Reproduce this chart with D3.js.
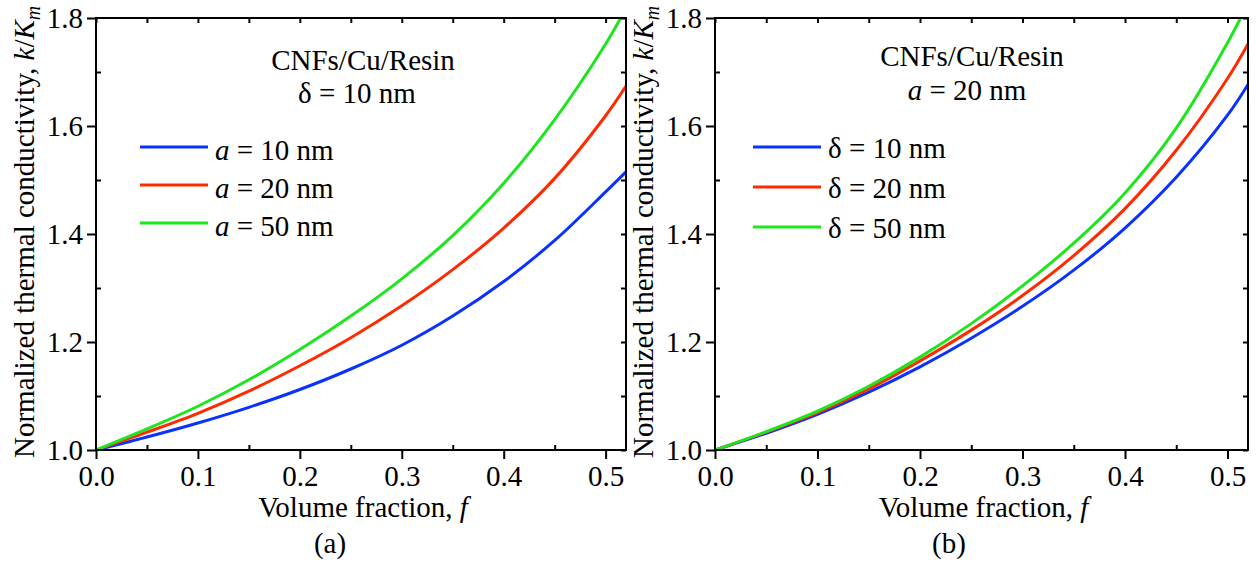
<!DOCTYPE html>
<html>
<head>
<meta charset="utf-8">
<script src="https://cdn.jsdelivr.net/npm/d3@7"></script>
<style>
  body { margin: 0; background: #fff; }
  svg text { font-family: "Liberation Serif", "Times New Roman", serif; fill: #000; }
</style>
</head>
<body>
<svg width="1256" height="569"></svg>
<script>
// volume fraction samples
const fracs = [0, 0.05, 0.1, 0.15, 0.2, 0.25, 0.3, 0.35, 0.4, 0.45, 0.5, 0.52];
// panel (a): delta = 10 nm
const leftA10 = [1, 1.024, 1.05, 1.079, 1.112, 1.15, 1.194, 1.248, 1.312, 1.388, 1.478, 1.515];
const leftA20 = [1, 1.033, 1.068, 1.109, 1.156, 1.208, 1.267, 1.334, 1.411, 1.503, 1.619, 1.674];
const leftA50 = [1, 1.039, 1.081, 1.13, 1.186, 1.248, 1.317, 1.397, 1.494, 1.612, 1.752, 1.818];
// panel (b): a = 20 nm
const rightD10 = [1, 1.031, 1.066, 1.107, 1.154, 1.207, 1.266, 1.333, 1.411, 1.505, 1.62, 1.677];
const rightD20 = [1, 1.033, 1.069, 1.113, 1.165, 1.222, 1.286, 1.36, 1.447, 1.555, 1.688, 1.752];
const rightD50 = [1, 1.034, 1.072, 1.118, 1.172, 1.234, 1.304, 1.383, 1.476, 1.596, 1.754, 1.828];

const xMajor = [0, 0.1, 0.2, 0.3, 0.4, 0.5];
const xMinor = [0.05, 0.15, 0.25, 0.35, 0.45];
const yMajor = [1.0, 1.2, 1.4, 1.6, 1.8];
const yMinor = [1.1, 1.3, 1.5, 1.7];

const seriesColors = ["#0a32ff", "#ff2a00", "#1ee61e"];

const svg = d3.select("svg");

function drawPanel(opt) {
    var x = d3.scaleLinear().domain([0, 0.52]).range([opt.x0, opt.x1]);
    var y = d3.scaleLinear().domain([1.0, 1.8]).range([450, 18]);
    var g = svg.append("g");

    g.append("clipPath").attr("id", opt.id + "clip")
        .append("rect")
        .attr("x", opt.x0).attr("y", 18)
        .attr("width", opt.x1 - opt.x0).attr("height", 432);

    var line = d3.line()
        .x(function(d) { return x(d[0]); })
        .y(function(d) { return y(d[1]); })
        .curve(d3.curveCatmullRom.alpha(0.5));

    opt.series.forEach(function(vals, i) {
        g.append("path")
            .datum(fracs.map(function(f, j) { return [f, vals[j]]; }))
            .attr("d", line)
            .attr("fill", "none")
            .attr("stroke", seriesColors[i])
            .attr("stroke-width", 3)
            .attr("clip-path", "url(#" + opt.id + "clip)");
    });

    // bottom: major out, minor in
    g.append("g").attr("transform", "translate(0,450)")
        .call(d3.axisBottom(x).tickValues(xMajor).tickSize(9).tickPadding(6)
            .tickFormat(d3.format(".1f")));
    g.append("g").attr("transform", "translate(0,450)")
        .call(d3.axisBottom(x).tickValues(xMinor).tickSize(-5).tickFormat(""));
    // left
    g.append("g").attr("transform", "translate(" + opt.x0 + ",0)")
        .call(d3.axisLeft(y).tickValues(yMajor).tickSize(9).tickPadding(4)
            .tickFormat(d3.format(".1f")));
    g.append("g").attr("transform", "translate(" + opt.x0 + ",0)")
        .call(d3.axisLeft(y).tickValues(yMinor).tickSize(-5).tickFormat(""));
    // top and right mirrored, inward
    g.append("g").attr("transform", "translate(0,18)")
        .call(d3.axisTop(x).tickValues(xMajor.concat(xMinor)).tickSize(-5).tickFormat(""));
    g.append("g").attr("transform", "translate(" + opt.x1 + ",0)")
        .call(d3.axisRight(y).tickValues(yMajor.concat(yMinor)).tickSize(-5).tickFormat(""));

    g.selectAll(".domain").remove();
    g.selectAll(".tick line").attr("stroke", "#000").attr("stroke-width", 2);
    g.selectAll(".tick text").attr("font-size", "29px")
        .attr("font-family", "Liberation Serif, Times New Roman, serif");

    g.append("rect")
        .attr("x", opt.x0).attr("y", 18)
        .attr("width", opt.x1 - opt.x0).attr("height", 432)
        .attr("fill", "none").attr("stroke", "#000").attr("stroke-width", 2);

    // axis titles
    var xt = g.append("text")
        .attr("x", (opt.x0 + opt.x1) / 2 + 2).attr("y", 517)
        .attr("text-anchor", "middle").attr("font-size", "29px");
    xt.append("tspan").text("Volume fraction, ");
    xt.append("tspan").attr("font-style", "italic").text("f");

    var yt = g.append("text")
        .attr("transform", "translate(" + opt.labelX + ",458) rotate(-90)")
        .attr("font-size", "29px");
    yt.append("tspan").text("Normalized thermal conductivity, ");
    yt.append("tspan").attr("font-style", "italic").text("k");
    yt.append("tspan").text("/");
    yt.append("tspan").attr("font-style", "italic").text("K");
    yt.append("tspan").attr("font-style", "italic").attr("font-size", "20px")
        .attr("dy", 6).text("m");

    g.append("text")
        .attr("x", opt.panelX).attr("y", 553)
        .attr("text-anchor", "middle").attr("font-size", "29px")
        .text(opt.panel);

    // annotation
    g.append("text")
        .attr("x", opt.noteX).attr("y", opt.noteY1)
        .attr("text-anchor", "middle").attr("font-size", "29px")
        .text("CNFs/Cu/Resin");
    var n2 = g.append("text")
        .attr("x", opt.noteX2).attr("y", opt.noteY2)
        .attr("text-anchor", "middle").attr("font-size", "29px");
    n2.append("tspan").attr("font-style", opt.noteItalic ? "italic" : "normal").text(opt.noteSym);
    n2.append("tspan").text(" = " + opt.noteVal);

    // legend
    opt.legend.forEach(function(lab, i) {
        var ly = opt.legY[i];
        g.append("line")
            .attr("x1", opt.legX).attr("x2", opt.legX + 68)
            .attr("y1", ly).attr("y2", ly)
            .attr("stroke", seriesColors[i]).attr("stroke-width", 3);
        var t = g.append("text")
            .attr("x", opt.legX + 75).attr("y", ly + opt.legDy)
            .attr("font-size", "29px");
        t.append("tspan").attr("font-style", opt.legItalic ? "italic" : "normal").text(opt.legSym);
        t.append("tspan").text(" = " + lab);
    });
}

drawPanel({
    id: "a", x0: 96, x1: 626, labelX: 34, panel: "(a)", panelX: 330,
    series: [leftA10, leftA20, leftA50],
    noteX: 363, noteY1: 70, noteX2: 357, noteY2: 103,
    noteSym: "δ", noteItalic: false, noteVal: "10 nm",
    legend: ["10 nm", "20 nm", "50 nm"], legSym: "a", legItalic: true,
    legX: 140, legY: [147, 185, 223], legDy: 13
});

drawPanel({
    id: "b", x0: 715, x1: 1248, labelX: 653, panel: "(b)", panelX: 949,
    series: [rightD10, rightD20, rightD50],
    noteX: 972, noteY1: 66, noteX2: 967, noteY2: 100,
    noteSym: "a", noteItalic: true, noteVal: "20 nm",
    legend: ["10 nm", "20 nm", "50 nm"], legSym: "δ", legItalic: false,
    legX: 753, legY: [147, 187, 227], legDy: 11
});
</script>
</body>
</html>
